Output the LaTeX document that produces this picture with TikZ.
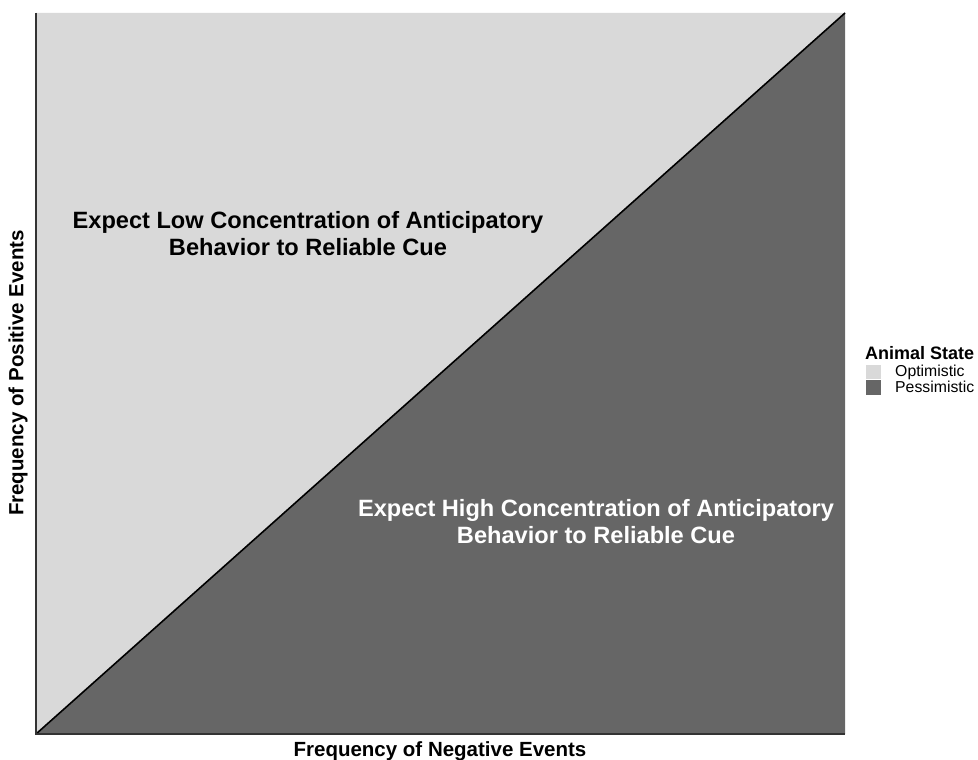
\documentclass[tikz,border=0pt]{standalone}
\usepackage{fontspec}
\setmainfont{Liberation Sans}
\definecolor{optc}{HTML}{D9D9D9}
\definecolor{pesc}{HTML}{666666}
\definecolor{axc}{HTML}{333333}
\begin{document}
\begin{tikzpicture}[x=1pt,y=-1pt,
  bigtxt/.style={font=\bfseries\fontsize{23.6}{27}\selectfont, align=center},
  axtitle/.style={font=\bfseries\fontsize{20.5}{24}\selectfont},
  legtxt/.style={font=\fontsize{15.8}{18}\selectfont, anchor=west, inner sep=0pt}]
\useasboundingbox (0,0) rectangle (978,760);
\coordinate (bl) at (36,734);
\coordinate (tl) at (36,13);
\coordinate (tr) at (845,13);
\coordinate (br) at (845,734);
\fill[optc] (bl) -- (tl) -- (tr) -- cycle;
\fill[pesc] (bl) -- (tr) -- (br) -- cycle;
\draw[black, line width=1.6pt] (bl) -- (tr);
\draw[axc, line width=1.2pt] (tl) -- (bl) -- (br);
\node[bigtxt] (low) at (308,234) {Expect Low Concentration of Anticipatory\\Behavior to Reliable Cue};
\node[bigtxt, text=white] (high) at (596,522) {Expect High Concentration of Anticipatory\\Behavior to Reliable Cue};
\node[axtitle] (xt) at (440,751) {Frequency of Negative Events};
\node[axtitle, rotate=90] (yt) at (18,373) {Frequency of Positive Events};
\node[font=\bfseries\fontsize{18}{20}\selectfont, anchor=west, inner sep=0pt] (lt) at (865,353) {Animal State};
\fill[optc] (866,365) rectangle (881,379);
\fill[pesc] (866,380) rectangle (881,395);
\node[legtxt] (lo) at (895,372) {Optimistic};
\node[legtxt] (lp) at (895,387) {Pessimistic};
\end{tikzpicture}
\end{document}
